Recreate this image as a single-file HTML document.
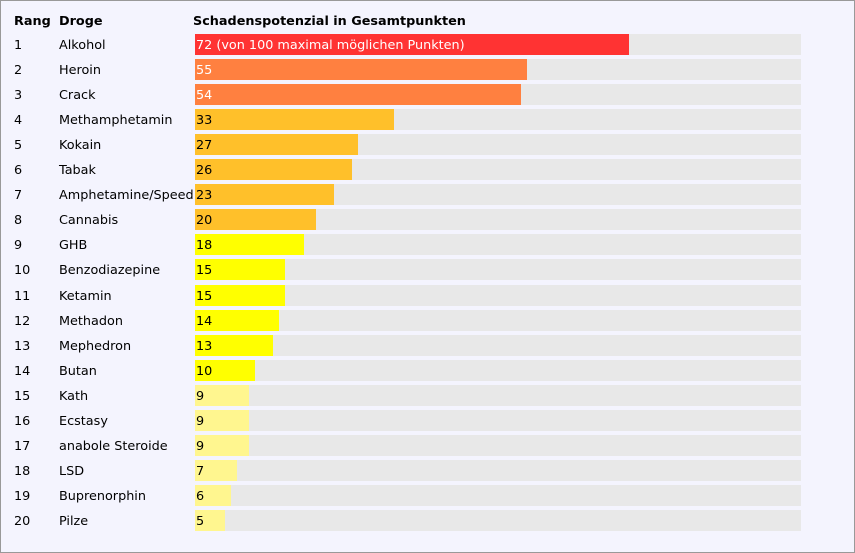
<!DOCTYPE html>
<html><head><meta charset="utf-8"><style>
body{margin:0;background:#fff;}
#frame{position:absolute;left:0;top:0;width:853px;height:551px;border:1px solid #999;background:#f4f4fe;font-family:"DejaVu Sans","Liberation Sans",sans-serif;font-size:12.8px;color:#000;}
.h{position:absolute;top:13px;font-weight:bold;}
.t{position:absolute;line-height:21px;}
.track{position:absolute;left:194px;width:606px;height:21px;background:#e8e8e8;}
.bar{position:absolute;left:194px;height:21px;}
.val{position:absolute;left:195px;line-height:21px;}
</style></head><body>
<div id="frame">
<div class="h" style="left:13px">Rang</div>
<div class="h" style="left:58px">Droge</div>
<div class="h" style="left:192px">Schadenspotenzial in Gesamtpunkten</div>
<div id="rows"></div>
</div>
<script>
const drugs=["Alkohol","Heroin","Crack","Methamphetamin","Kokain","Tabak","Amphetamine/Speed","Cannabis","GHB","Benzodiazepine","Ketamin","Methadon","Mephedron","Butan","Kath","Ecstasy","anabole Steroide","LSD","Buprenorphin","Pilze"];
const scores=[72,55,54,33,27,26,23,20,18,15,15,14,13,10,9,9,9,7,6,5];
const maxScore=100;
const plotW=603, y0=33, step=25.05;
function xs(v){return v/maxScore*plotW;}
function color(v){ if(v>=60)return "#ff3333"; if(v>=40)return "#ff8040"; if(v>=20)return "#ffc02a"; if(v>=10)return "#ffff00"; return "#fff68f";}
const root=document.getElementById('rows');
scores.forEach((v,i)=>{
  const y=y0+i*step;
  const r=document.createElement('div');r.className='t';r.style.left='13px';r.style.top=(y+1)+'px';r.textContent=String(i+1);
  
  
  root.appendChild(r);
  const d=document.createElement('div');d.className='t';d.style.left='58px';d.style.top=(y+1)+'px';d.textContent=drugs[i];
  
  
  root.appendChild(d);
  const tr=document.createElement('div');tr.className='track';tr.style.top=y+'px';
  
  
  root.appendChild(tr);
  const b=document.createElement('div');b.className='bar';b.style.top=y+'px';b.style.width=xs(v)+'px';b.style.background=color(v);
  
  
  root.appendChild(b);
  const l=document.createElement('div');l.className='val';l.style.top=(y+1)+'px';
  l.textContent=i===0?v+" (von "+maxScore+" maximal möglichen Punkten)":String(v);
  l.style.color=v>=40?'#fff':'#000';
  
  
  root.appendChild(l);
});
</script>
</body></html>
